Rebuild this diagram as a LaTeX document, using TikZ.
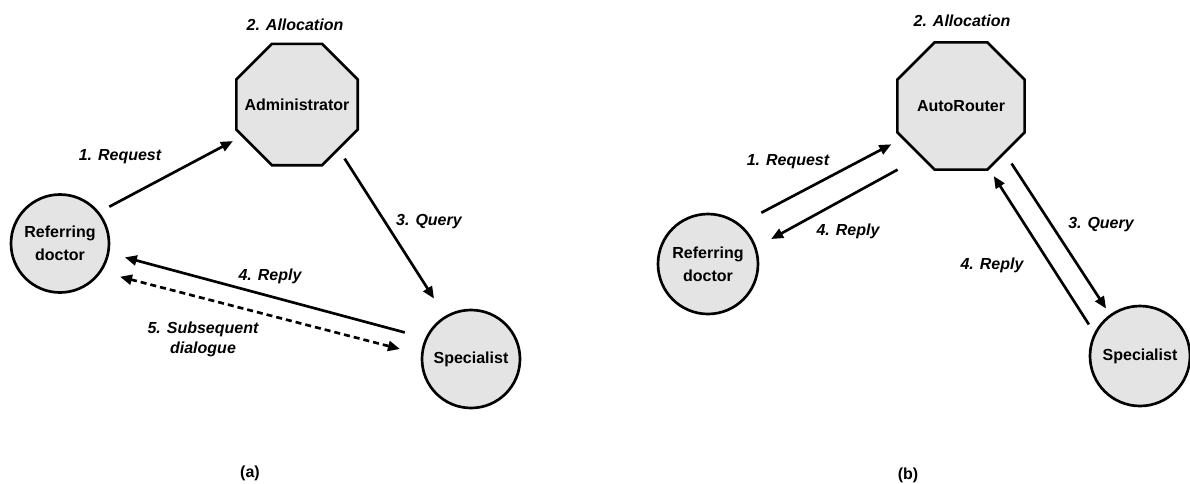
\documentclass[tikz,border=0pt]{standalone}
\usepackage{fontspec}
\setmainfont{Liberation Sans}
\usetikzlibrary{arrows.meta,shapes.geometric}
\definecolor{nodefill}{RGB}{228,228,228}
\tikzset{
  agent/.style={circle, draw=black, line width=2pt, fill=nodefill,
    inner sep=0pt, outer sep=0pt, minimum size=74pt, align=center,
    font=\fontsize{12}{17}\selectfont\bfseries},
  hub/.style={regular polygon, regular polygon sides=8, draw=black,
    line width=2pt, fill=nodefill, inner sep=0pt, outer sep=0pt,
    font=\fontsize{12}{14}\selectfont\bfseries},
  msg/.style={font=\fontsize{12}{15}\selectfont\bfseries\itshape,
    align=center, inner sep=0pt},
  caption/.style={font=\fontsize{12}{14}\selectfont\bfseries, inner sep=0pt},
  flow/.style={line width=2pt, -{Triangle[length=9pt,width=7.5pt]}},
  dialogue/.style={line width=2pt,
    {Triangle[length=9pt,width=7.5pt]}-{Triangle[length=9pt,width=7.5pt]},
    dash pattern=on 4.5pt off 3pt},
}
\begin{document}
\begin{tikzpicture}[x=0.75pt, y=-0.75pt]
\useasboundingbox (0,0) rectangle (1190,483);

% ---------- (a) manual allocation ----------
\node[hub, minimum size=98.5pt] (adm) at (297,104.5) {\makebox[0pt]{Administrator}};
\node[agent, minimum size=73.5pt] (refa) at (60,243.5) {Referring\\doctor};
\node[agent, minimum size=73.5pt] (speca) at (471,359) {Specialist};

\node[msg] (alloca) at (295,25) {2. Allocation};
\node[msg] (reqa) at (120,157) {1. Request};
\node[msg] (querya) at (429,222) {3. Query};
\node[msg] (replya) at (270,276) {4. Reply};
\node[msg] (subsa) at (203,339) {5. Subsequent\\dialogue};
\node[caption] (capa) at (250,473) {(a)};

\draw[flow, shorten <=9.5pt, shorten >=8.25pt] (refa.39.2) -- (adm.210.4);
\draw[flow, shorten <=8.6pt, shorten >=16.4pt] (adm.313.8) -- (speca.121.9);
\draw[flow, shorten <=16.9pt, shorten >=13pt] (speca.155) -- (refa.349.6);
\draw[dialogue, shorten <=15.4pt, shorten >=17.2pt] (refa.325.4) -- (speca.175.1);

% ---------- (b) automatic routing ----------
\node[hub, minimum size=103.3pt] (router) at (961,106) {\makebox[0pt]{AutoRouter}};
\node[agent, minimum size=75pt] (refb) at (708,264) {Referring\\doctor};
\node[agent, minimum size=75pt] (specb) at (1140,356) {Specialist};

\node[msg] (allocb) at (962,21) {2. Allocation};
\node[msg] (reqb) at (788,162) {1. Request};
\node[msg] (replyb) at (848,231) {4. Reply};
\node[msg] (queryb) at (1101,225) {3. Query};
\node[msg] (replyc) at (992,265) {4. Reply};
\node[caption] (capb) at (908,475) {(b)};

\draw[flow, shorten <=19.1pt, shorten >=10pt] (refb.52) -- (router.209);
\draw[flow, shorten <=20.5pt, shorten >=13.6pt] (router.232.6) -- (refb.19.9);
\draw[flow, shorten <=9.8pt, shorten >=6.3pt] (router.313.7) -- (specb.126.7);
\draw[flow, shorten <=8.6pt, shorten >=7pt] (specb.154) -- (router.294.7);
\end{tikzpicture}
\end{document}
